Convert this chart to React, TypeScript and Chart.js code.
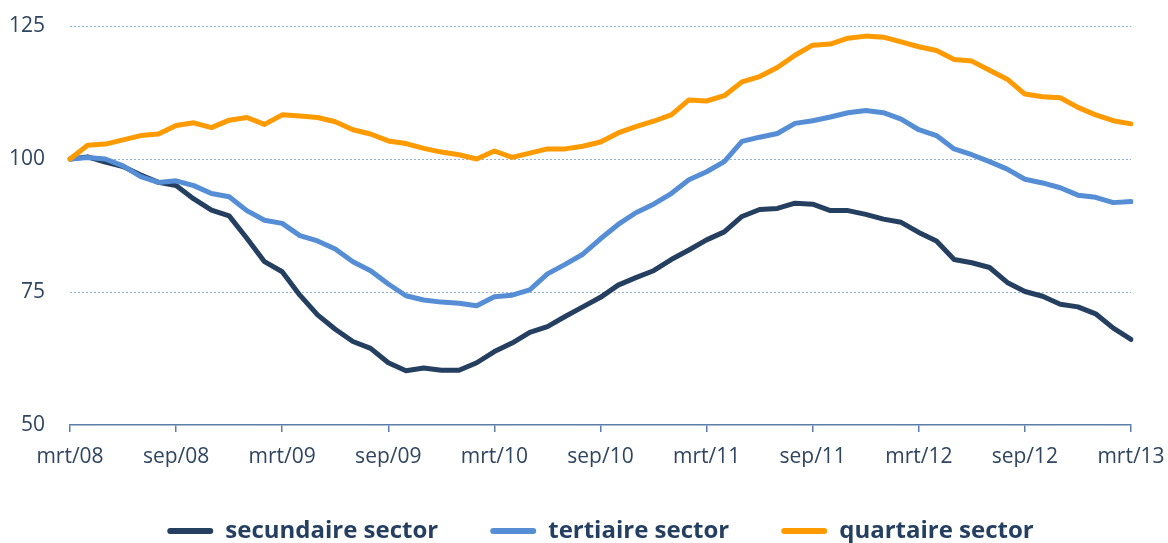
import React, { useEffect, useRef } from 'react';
import { Chart, registerables } from 'chart.js';

Chart.register(...registerables);

const monthNames = ['jan', 'feb', 'mrt', 'apr', 'mei', 'jun', 'jul', 'aug', 'sep', 'okt', 'nov', 'dec'];
const categories: string[] = [];
for (let k = 0; k < 61; k++) {
  const m = (2 + k) % 12;
  const yr = 8 + Math.floor((2 + k) / 12);
  categories.push(`${monthNames[m]}/${String(yr).padStart(2, '0')}`);
}

const seriesNames = ['secundaire sector', 'tertiaire sector', 'quartaire sector'];

const secundaire = [
  100.0, 100.4, 99.4, 98.6, 97.0, 95.6, 95.0, 92.5, 90.4, 89.3,
  85.1, 80.7, 78.8, 74.4, 70.7, 68.0, 65.7, 64.4, 61.7, 60.2,
  60.7, 60.3, 60.3, 61.7, 63.8, 65.4, 67.4, 68.5, 70.4, 72.2,
  74.0, 76.3, 77.7, 79.0, 81.1, 82.9, 84.8, 86.3, 89.2, 90.5,
  90.7, 91.7, 91.5, 90.3, 90.3, 89.6, 88.7, 88.1, 86.2, 84.6,
  81.1, 80.5, 79.6, 76.8, 75.1, 74.2, 72.7, 72.2, 70.9, 68.2,
  66.1,
];

const tertiaire = [
  100.0, 100.3, 100.0, 98.7, 96.7, 95.6, 95.9, 95.0, 93.5, 92.9,
  90.3, 88.5, 87.9, 85.6, 84.6, 83.1, 80.7, 79.0, 76.5, 74.3,
  73.5, 73.1, 72.9, 72.4, 74.1, 74.4, 75.4, 78.4, 80.2, 82.1,
  85.0, 87.7, 89.9, 91.5, 93.5, 96.1, 97.6, 99.5, 103.3, 104.1,
  104.8, 106.7, 107.2, 107.9, 108.7, 109.1, 108.7, 107.5, 105.5, 104.4,
  101.9, 100.8, 99.5, 98.1, 96.2, 95.5, 94.6, 93.2, 92.8, 91.8,
  92.0,
];

const quartaire = [
  100.0, 102.6, 102.8, 103.6, 104.4, 104.7, 106.3, 106.8, 105.9, 107.3,
  107.8, 106.5, 108.3, 108.1, 107.8, 107.0, 105.5, 104.7, 103.4, 102.9,
  102.0, 101.3, 100.8, 100.0, 101.5, 100.3, 101.1, 101.9, 101.9, 102.4,
  103.2, 104.9, 106.1, 107.1, 108.3, 111.1, 110.9, 111.9, 114.5, 115.5,
  117.2, 119.5, 121.4, 121.6, 122.7, 123.1, 122.9, 122.0, 121.1, 120.4,
  118.7, 118.4, 116.7, 115.0, 112.2, 111.7, 111.5, 109.7, 108.3, 107.2,
  106.6,
];

const yTicks = [50, 75, 100, 125];

const seriesColors = ['#243f60', '#558ed5', '#ff9a00'];
const FONT = "'Open Sans', 'Noto Sans', sans-serif";
const tickColor = '#2f4560';
const legendColor = '#243f60';
const axisColor = '#5a7ea8';
const gridColor = '#8fb0dc';

export default function App() {
  const ref = useRef<HTMLCanvasElement>(null);

  useEffect(() => {
    if (!ref.current) return;
    Chart.defaults.font.family = FONT;
    const values = [secundaire, tertiaire, quartaire];
    const chart = new Chart(ref.current, {
      type: 'line',
      data: {
        labels: categories,
        datasets: values.map((v, i) => ({
          label: seriesNames[i],
          data: v,
          borderColor: seriesColors[i],
          backgroundColor: seriesColors[i],
          borderWidth: 5,
          pointRadius: 0,
          tension: 0,
          fill: false,
          borderJoinStyle: 'round' as const,
          borderCapStyle: 'round' as const,
          order: 2 - i,
        })),
      },
      options: {
        animation: false,
        responsive: true,
        maintainAspectRatio: false,
        layout: { padding: { top: 26, right: 37, bottom: -10, left: 0 } },
        plugins: {
          tooltip: { enabled: false },
          legend: {
            position: 'bottom',
            fullSize: false,
            labels: {
              boxWidth: 46,
              boxHeight: 6,
              padding: 52,
              color: legendColor,
              useBorderRadius: true,
              borderRadius: 3,
              font: { family: FONT, size: 24, weight: 'bold' },
              sort: (a: any, b: any) => a.datasetIndex - b.datasetIndex,
              generateLabels: (c: any) =>
                Chart.defaults.plugins.legend.labels.generateLabels(c).map((l: any) => ({
                  ...l,
                  lineWidth: 0,
                })),
            },
          },
        },
        scales: {
          x: {
            grid: {
              drawOnChartArea: false,
              drawTicks: true,
              tickLength: 7,
              tickWidth: 1.5,
              lineWidth: 1.5,
              color: (c: any) => (c.index % 6 === 0 ? axisColor : 'transparent'),
            },
            border: { display: true, color: axisColor, width: 1.5 },
            ticks: {
              autoSkip: false,
              maxRotation: 0,
              minRotation: 0,
              padding: 12,
              color: tickColor,
              font: { family: FONT, size: 21 },
              callback: (_v: any, i: number) => (i % 6 === 0 ? categories[i] : ''),
            },
            afterFit: (s: any) => {
              s.height = 42;
              s.paddingLeft = 0;
              s.paddingRight = 0;
            },
          },
          y: {
            min: yTicks[0],
            max: yTicks[yTicks.length - 1],
            afterBuildTicks: (s: any) => {
              s.ticks = yTicks.map((v) => ({ value: v }));
            },
            ticks: {
              padding: 25,
              color: tickColor,
              font: { family: FONT, size: 21 },
            },
            grid: {
              drawTicks: false,
              lineWidth: 1,
              color: (c: any) => (c.tick && c.tick.value === 50 ? 'transparent' : gridColor),
            },
            border: { display: false, dash: [2, 2] },
            afterFit: (s: any) => {
              s.width = 70;
              s.paddingTop = 0;
              s.paddingBottom = 0;
            },
          },
        },
      },
    });
    return () => chart.destroy();
  }, []);

  return (
    <div style={{ position: 'absolute', left: 0, top: 0, width: 1168, height: 543 }}>
      <canvas ref={ref} />
    </div>
  );
}
